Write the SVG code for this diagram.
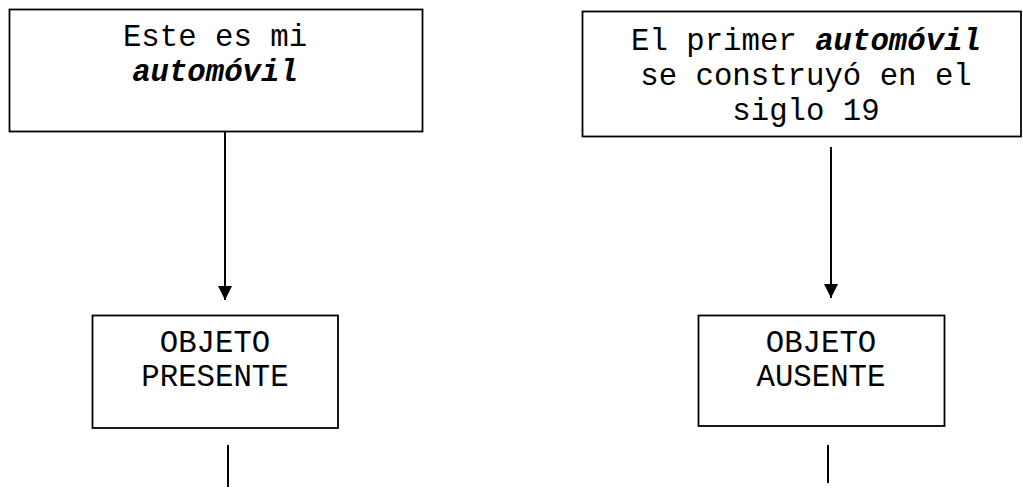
<svg xmlns="http://www.w3.org/2000/svg" width="1023" height="491" viewBox="0 0 1023 491">
<defs>
<style>
.box{fill:#fff;stroke:#000;stroke-width:1.8}
.t{font-family:"Liberation Mono","Courier New",monospace;font-size:30.7px;fill:#000;text-anchor:middle}
.b{font-weight:bold;font-style:italic}
.con{stroke:#000;stroke-width:2;fill:none}
</style>
<marker id="arr" markerWidth="14" markerHeight="15" refX="14" refY="7" orient="auto" markerUnits="userSpaceOnUse" viewBox="0 0 14 14">
<path d="M0,0 L14,7 L0,14 Z" fill="#000"/>
</marker>
</defs>
<rect width="1023" height="491" fill="#fff"/>
<g id="node-presente-frase">
<rect class="box" x="9.5" y="9.5" width="413" height="122"/>
<text class="t" x="215" y="46">Este es mi</text>
<text class="t b" x="215" y="81">automóvil</text>
</g>
<g id="node-ausente-frase">
<rect class="box" x="582.5" y="11.5" width="438.5" height="125"/>
<text class="t" x="806" y="50">El primer <tspan class="b">automóvil</tspan></text>
<text class="t" x="806" y="85">se construyó en el</text>
<text class="t" x="806" y="120">siglo 19</text>
</g>
<g id="node-objeto-presente">
<rect class="box" x="92.5" y="315.5" width="245.5" height="112.5"/>
<text class="t" x="215" y="352">OBJETO</text>
<text class="t" x="215" y="386">PRESENTE</text>
</g>
<g id="node-objeto-ausente">
<rect class="box" x="698.5" y="315.5" width="246" height="110.5"/>
<text class="t" x="821" y="352">OBJETO</text>
<text class="t" x="821" y="386">AUSENTE</text>
</g>
<g id="connectors">
<line class="con" x1="225" y1="132" x2="225" y2="300" marker-end="url(#arr)"/>
<line class="con" x1="831" y1="147" x2="831" y2="298" marker-end="url(#arr)"/>
<line class="con" x1="228" y1="445" x2="228" y2="487"/>
<line class="con" x1="828" y1="445" x2="828" y2="483"/>
</g>
</svg>
